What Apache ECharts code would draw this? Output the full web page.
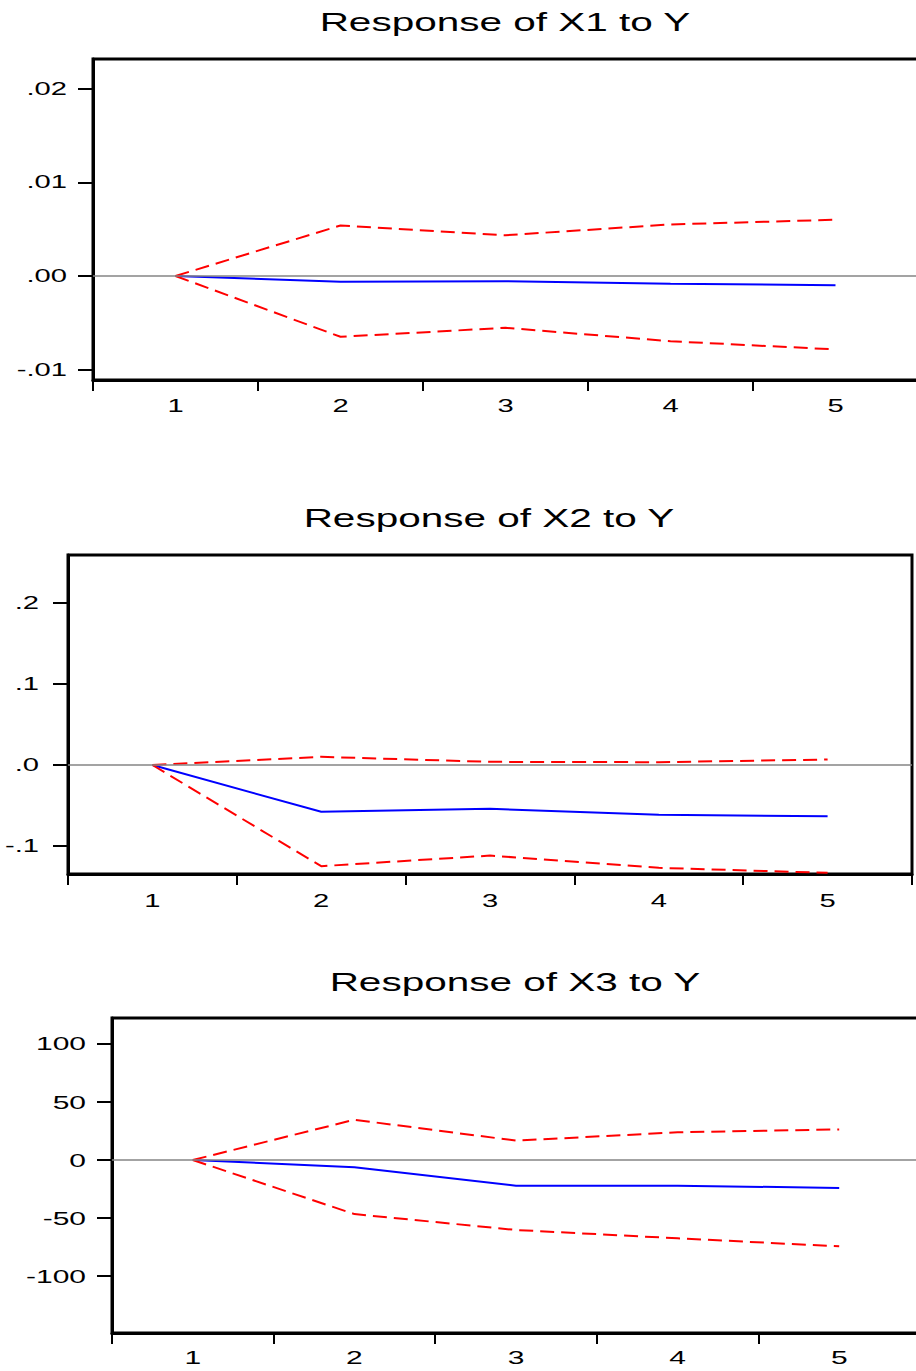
<!DOCTYPE html>
<html>
<head>
<meta charset="utf-8">
<script src="https://cdn.jsdelivr.net/npm/echarts@6/dist/echarts.min.js"></script>
<style>
html,body{margin:0;padding:0;background:#fff;}
#main{width:916px;height:1371px;}
</style>
</head>
<body>
<div id="main"></div>
<script>
// ---- data ----
const categories = ['1', '2', '3', '4', '5'];
const titles = ['Response of X1 to Y', 'Response of X2 to Y', 'Response of X3 to Y'];

const x1Resp  = [0, -0.00062, -0.00055, -0.00083, -0.00098];
const x1Upper = [0, 0.00539, 0.00435, 0.00550, 0.00600];
const x1Lower = [0, -0.00649, -0.00553, -0.00696, -0.00784];

const x2Resp  = [0, -0.0576, -0.0539, -0.0613, -0.0630];
const x2Upper = [0, 0.0101, 0.0039, 0.0035, 0.0068];
const x2Lower = [0, -0.1246, -0.1115, -0.1266, -0.1328];

const x3Resp  = [0, -6.3, -22.1, -22.1, -24.1];
const x3Upper = [0, 34.7, 16.7, 23.9, 26.4];
const x3Lower = [0, -46.6, -60.3, -67.5, -74.4];

const y1Ticks = [-0.01, 0, 0.01, 0.02];
const y1Labels = ['-.01', '.00', '.01', '.02'];
const y2Ticks = [-0.1, 0, 0.1, 0.2];
const y2Labels = ['-.1', '.0', '.1', '.2'];
const y3Ticks = [-100, -50, 0, 50, 100];
const y3Labels = ['-100', '-50', '0', '50', '100'];

// ---- layout ----
const FONT = 'Liberation Sans, Arial, sans-serif';
const panels = [
  {resp: x1Resp, up: x1Upper, lo: x1Lower, ticks: y1Ticks, labels: y1Labels,
   grid: {left: 93, top: 59, width: 825, height: 321}, min: -0.0111, max: 0.02316,
   titleX: 505, titleY: 22, xMargin: 17, yMargin: 26, fs: 18},
  {resp: x2Resp, up: x2Upper, lo: x2Lower, ticks: y2Ticks, labels: y2Labels,
   grid: {left: 68, top: 555, width: 844, height: 319}, min: -0.1342, max: 0.2586,
   titleX: 489, titleY: 518, xMargin: 18, yMargin: 29, fs: 18},
  {resp: x3Resp, up: x3Upper, lo: x3Lower, ticks: y3Ticks, labels: y3Labels,
   grid: {left: 112, top: 1018, width: 808, height: 315}, min: -149.1, max: 122.4,
   titleX: 515, titleY: 982, xMargin: 15, yMargin: 26, fs: 18.5}
];

const grid = [], xAxis = [], yAxis = [], series = [], graphic = [];
panels.forEach((p, i) => {
  grid.push(Object.assign({show: true, borderColor: '#000', borderWidth: 3,
    backgroundColor: 'transparent', containLabel: false, outerBoundsMode: 'none'}, p.grid));
  xAxis.push({
    type: 'category', gridIndex: i, data: categories, boundaryGap: true, position: 'bottom',
    axisLine: {show: true, onZero: false, lineStyle: {color: '#000', width: 3}},
    axisTick: {show: true, interval: 0, alignWithLabel: false, length: 11, lineStyle: {color: '#000', width: 2}},
    axisLabel: {show: true, interval: 0, margin: p.xMargin, color: '#000', fontSize: p.fs, fontFamily: FONT},
    splitLine: {show: false}
  });
  yAxis.push({
    type: 'value', gridIndex: i, min: p.min, max: p.max, position: 'left',
    axisLine: {show: true, onZero: false, lineStyle: {color: '#000', width: 3}},
    axisTick: {show: true, length: 15, customValues: p.ticks, lineStyle: {color: '#000', width: 2}},
    axisLabel: {show: true, margin: p.yMargin, color: '#000', fontSize: p.fs, fontFamily: FONT,
      customValues: p.ticks,
      formatter: function (v) {
        const k = p.ticks.findIndex(t => Math.abs(t - v) < 1e-9);
        return k >= 0 ? p.labels[k] : '';
      }},
    splitLine: {show: false}
  });
  series.push({
    type: 'line', xAxisIndex: i, yAxisIndex: i, data: [], z: 1, silent: true,
    markLine: {silent: true, symbol: 'none', label: {show: false}, animation: false,
      lineStyle: {color: '#858585', width: 1.5, type: 'solid'}, data: [{yAxis: 0}]}
  });
  series.push({
    type: 'line', xAxisIndex: i, yAxisIndex: i, data: p.resp, z: 3,
    symbol: 'none', lineStyle: {color: '#0000FF', width: 2}
  });
  [p.up, p.lo].forEach(d => series.push({
    type: 'line', xAxisIndex: i, yAxisIndex: i, data: d, z: 3,
    symbol: 'none', lineStyle: {color: '#FF0000', width: 2, type: [14, 7]}
  }));
  graphic.push({
    type: 'text', x: p.titleX, y: p.titleY,
    style: {text: titles[i], textAlign: 'center', textVerticalAlign: 'middle',
      fontSize: 25, fontFamily: FONT, fill: '#000'}
  });
});

const chart = echarts.init(document.getElementById('main'), null, {renderer: 'svg', width: 916, height: 1371});
chart.setOption({
  animation: false,
  backgroundColor: '#fff',
  grid: grid, xAxis: xAxis, yAxis: yAxis, series: series, graphic: graphic
});

// horizontal stretch of the text glyphs, as in the original picture
function stretchText() {
  document.querySelectorAll('#main svg text').forEach(t => {
    if (t.getAttribute('data-w')) return;
    const w = t.getComputedTextLength();
    if (!w) return;
    t.setAttribute('data-w', w);
    t.setAttribute('textLength', (w * 1.62).toFixed(2));
    t.setAttribute('lengthAdjust', 'spacingAndGlyphs');
  });
}
chart.on('finished', stretchText);
stretchText();
setTimeout(stretchText, 0);
setTimeout(stretchText, 100);
</script>
</body>
</html>
